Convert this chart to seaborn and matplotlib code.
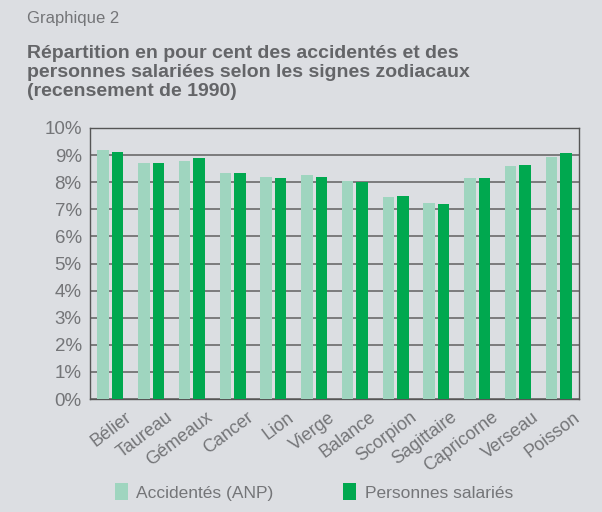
import pandas as pd
import matplotlib.pyplot as plt
import matplotlib.transforms as mtransforms
from matplotlib.patches import Patch
import seaborn as sns

# Signes zodiacaux et parts (%)
signes = ['Bélier', 'Taureau', 'Gémeaux', 'Cancer', 'Lion', 'Vierge',
          'Balance', 'Scorpion', 'Sagittaire', 'Capricorne', 'Verseau', 'Poisson']
accidentes = [9.19, 8.71, 8.78, 8.34, 8.19, 8.27, 8.05, 7.46, 7.24, 8.16, 8.60, 8.93]
salaries = [9.12, 8.71, 8.89, 8.34, 8.16, 8.19, 7.99, 7.49, 7.20, 8.16, 8.64, 9.08]
series = ['Accidentés (ANP)', 'Personnes salariés']
yticks = [0, 1, 2, 3, 4, 5, 6, 7, 8, 9, 10]

df = pd.DataFrame({
    'signe': signes * 2,
    'serie': [series[0]] * len(signes) + [series[1]] * len(signes),
    'valeur': accidentes + salaries,
})

bg = '#dcdee2'
txt = '#747578'
light = '#9fd5bf'
dark = '#00a84f'

sns.set_style('white')
plt.rcParams['font.family'] = ['Liberation Sans', 'DejaVu Sans']

fig = plt.figure(figsize=(6.02, 5.12), dpi=100, facecolor=bg)
ax = fig.add_axes([90 / 602, 1 - 399 / 512, 489 / 602, 271 / 512])
ax.set_facecolor(bg)

sns.barplot(data=df, x='signe', y='valeur', hue='serie', hue_order=series,
            palette=[light, dark], width=0.71, gap=0.2, saturation=1,
            linewidth=0, edgecolor='none', legend=False, ax=ax, zorder=3)

ax.set_xlim(-0.5, len(signes) - 0.5)
ax.set_ylim(0, 10)
ax.set_yticks(yticks)
ax.set_yticklabels([f'{t}%' for t in yticks])
ax.set_xlabel('')
ax.set_ylabel('')

ax.yaxis.grid(True, color='#6a6a6a', linewidth=1.2, zorder=0)
ax.set_axisbelow(True)
for s in ['left', 'bottom', 'right', 'top']:
    ax.spines[s].set_visible(True)
    ax.spines[s].set_color('#555555')
    ax.spines[s].set_linewidth(1.0)

ax.tick_params(axis='y', length=0, pad=6, labelsize=13.5, labelcolor=txt)
ax.tick_params(axis='x', which='major', length=0, labelsize=13, labelcolor=txt)
ax.set_xticks([i + 0.5 for i in range(len(signes) - 1)], minor=True)
ax.tick_params(axis='x', which='minor', direction='in', length=5, width=1, color='#333333')

offset = mtransforms.ScaledTranslation(14 / 100, -5 / 100, fig.dpi_scale_trans)
for lab in ax.get_xticklabels():
    lab.set_rotation(37)
    lab.set_ha('right')
    lab.set_va('top')
    lab.set_rotation_mode('anchor')
    lab.set_transform(lab.get_transform() + offset)

fig.text(27 / 602, 1 - 23 / 512, 'Graphique 2', fontsize=12, color=txt,
         va='baseline')
fig.text(27 / 602, 1 - 45 / 512,
         'Répartition en pour cent des accidentés et des\n'
         'personnes salariées selon les signes zodiacaux\n'
         '(recensement de 1990)',
         fontsize=14, color='#646568', fontweight='bold', va='top',
         linespacing=1.15)

handles = [Patch(facecolor=light, edgecolor='none'), Patch(facecolor=dark, edgecolor='none')]
leg = fig.legend(handles, series, loc='center left', bbox_to_anchor=(99 / 602, 20 / 512),
                 ncol=2, frameon=False, fontsize=12.5, handlelength=0.75, handleheight=1.1,
                 handletextpad=0.5, columnspacing=4.0)
for t in leg.get_texts():
    t.set_color(txt)

fig.savefig('out.png', dpi=100, facecolor=bg)
